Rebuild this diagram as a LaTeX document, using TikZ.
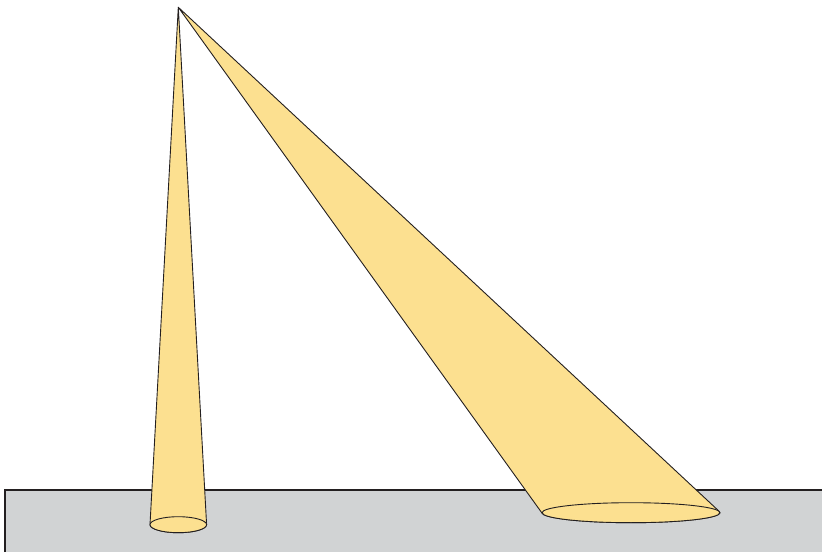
\documentclass[tikz,border=0pt]{standalone}
\usetikzlibrary{calc}
\definecolor{beam}{RGB}{252,224,144}
\definecolor{floorgray}{RGB}{209,211,212}
\definecolor{edge}{RGB}{35,31,32}
\tikzset{
  conefill/.style={fill=beam, draw=edge, line width=0.9pt, line join=round},
  floorline/.style={draw=edge, line width=1.1pt}
}
\begin{document}
\begin{tikzpicture}[x=1pt,y=1pt]
\useasboundingbox (0,0) rectangle (822,552);
% floor
\fill[floorgray] (5,0) rectangle (822,62);
\draw[floorline] (5,0) -- (5,62) -- (822,62);
% apex and base centres
\coordinate (apex) at (178.3,544.7);
\coordinate (cR) at (631,39.3);
\coordinate (cL) at (178.3,27.3);
% right cone
\path[conefill] (apex) -- ($(cR)+(184.62:89 and 10)$) arc[start angle=184.62, end angle=366.88, x radius=89, y radius=10] -- cycle;
\draw[conefill] (cR) ellipse [x radius=89, y radius=10];
% left cone
\path[conefill] (apex) -- ($(cL)+(179.1:28.3 and 8)$) arc[start angle=179.1, end angle=360.9, x radius=28.3, y radius=8] -- cycle;
\draw[conefill] (cL) ellipse [x radius=28.3, y radius=8];
\end{tikzpicture}
\end{document}
